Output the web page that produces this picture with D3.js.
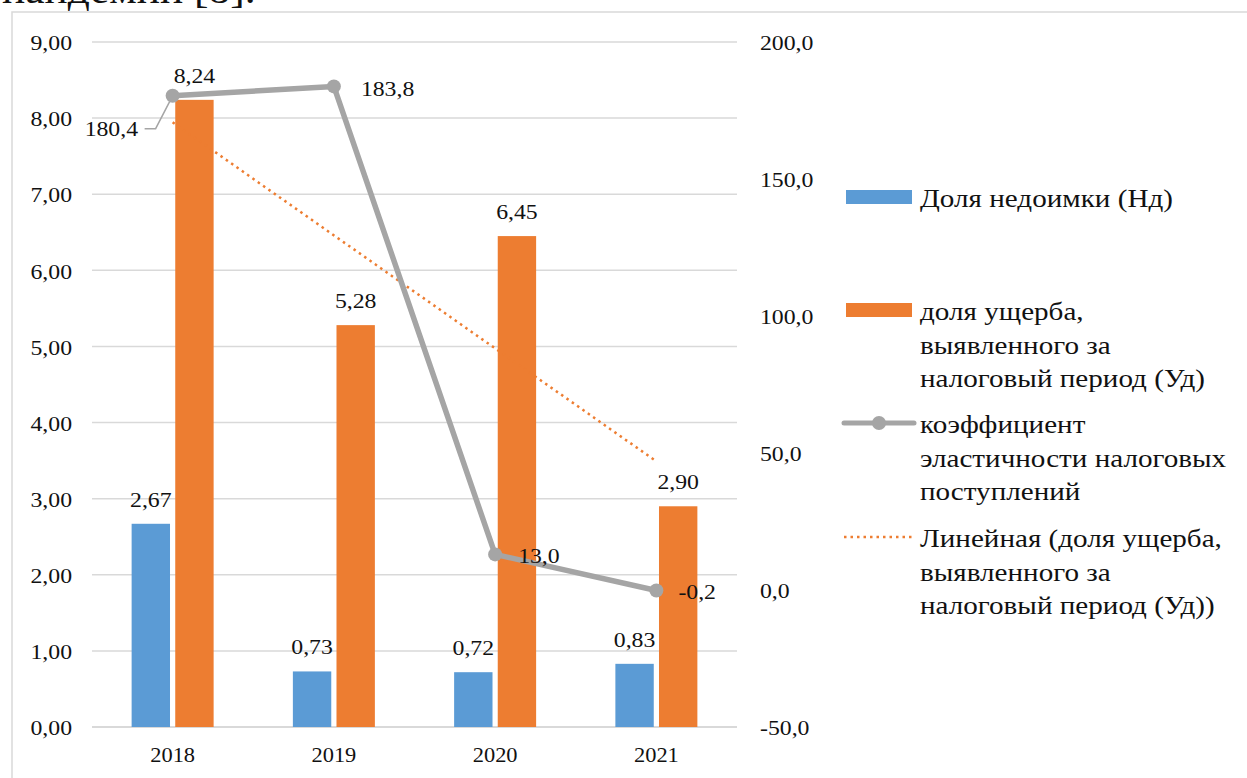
<!DOCTYPE html>
<html>
<head>
<meta charset="utf-8">
<script src="https://cdn.jsdelivr.net/npm/d3@7"></script>
<style>
  html, body { margin: 0; padding: 0; background: #fff; }
  svg { display: block; }
  svg text { font-family: "Liberation Serif", "Times New Roman", serif; fill: #111; }
</style>
</head>
<body>
<svg id="chart" width="1247" height="778"></svg>
<script>
// Years on the category axis
const years = ["2018", "2019", "2020", "2021"];
// Share of arrears (Нд), left axis
const arrearsShare = [2.67, 0.73, 0.72, 0.83];
// Share of damage detected in the tax period (Уд), left axis
const damageShare = [8.24, 5.28, 6.45, 2.90];
// Tax revenue elasticity coefficient, right axis
const elasticity = [180.4, 183.8, 13.0, -0.2];
// Tick values
const leftTicks = [0, 1, 2, 3, 4, 5, 6, 7, 8, 9];
const rightTicks = [-50, 0, 50, 100, 150, 200];

const fmt2 = v => v.toFixed(2).replace(".", ",");
const fmt1 = v => v.toFixed(1).replace(".", ",");

const FONT = "'Liberation Serif', 'Times New Roman', serif";
const NUM_SIZE = 22, NUM_STRETCH = 1.08;
const LEG_SIZE = 26, LEG_STRETCH = 1.12;

const svg = d3.select("#chart");

// Heading text of the page, cut by the top edge
svg.append("text")
  .attr("transform", "translate(2,3) scale(1.06,1)")
  .attr("font-family", FONT)
  .style("font-size", "41px")
  .text("пандемии [8].");

// Chart frame
svg.append("rect")
  .attr("x", 12).attr("y", 12)
  .attr("width", 1260).attr("height", 800)
  .attr("fill", "none").attr("stroke", "#d9d9d9").attr("stroke-width", 1.5);

const plot = { left: 92, right: 737, top: 42, bottom: 727 };

const x = d3.scaleBand().domain(years).range([plot.left, plot.right]);
const yL = d3.scaleLinear().domain([0, 9]).range([plot.bottom, plot.top]);
const yR = d3.scaleLinear().domain([-50, 200]).range([plot.bottom, plot.top]);
const cx = d => x(d) + x.bandwidth() / 2;

// Gridlines
svg.append("g")
  .selectAll("line").data(leftTicks).join("line")
  .attr("x1", plot.left).attr("x2", plot.right)
  .attr("y1", d => yL(d)).attr("y2", d => yL(d))
  .attr("stroke", "#d9d9d9").attr("stroke-width", d => d === 0 ? 2 : 1.5);

function styleAxisText(sel, size, stretch) {
  sel.selectAll("text")
    .attr("font-family", FONT)
    .style("font-size", size + "px")
    .attr("fill", "#111")
    .attr("transform", `scale(${stretch},1)`);
}

// Left axis labels
const leftAxis = svg.append("g")
  .attr("transform", `translate(${plot.left - 20},0)`)
  .call(d3.axisLeft(yL).tickValues(leftTicks).tickFormat(fmt2).tickSize(0).tickPadding(0));
leftAxis.select(".domain").remove();
styleAxisText(leftAxis, NUM_SIZE, NUM_STRETCH);
leftAxis.selectAll("text").attr("dy", "0.35em");

// Right axis labels
const rightAxis = svg.append("g")
  .attr("transform", `translate(${plot.right + 23},0)`)
  .call(d3.axisRight(yR).tickValues(rightTicks).tickFormat(fmt1).tickSize(0).tickPadding(0));
rightAxis.select(".domain").remove();
styleAxisText(rightAxis, NUM_SIZE, NUM_STRETCH);
rightAxis.selectAll("text").attr("dy", "0.35em");

// Bottom category labels
const bottomAxis = svg.append("g")
  .attr("transform", `translate(0,${plot.bottom + 19})`)
  .call(d3.axisBottom(x).tickSize(0).tickPadding(0));
bottomAxis.select(".domain").remove();
styleAxisText(bottomAxis, NUM_SIZE, 1.02);
bottomAxis.selectAll("text").attr("dy", "0.71em");

// Inner band for the two bars in each year
const sub = d3.scaleBand().domain(["a", "d"])
  .range([x.bandwidth() / 2 - 41, x.bandwidth() / 2 + 41]).paddingInner(0.12);

const series = [
  { key: "a", values: arrearsShare, color: "#5b9bd5" },
  { key: "d", values: damageShare, color: "#ed7d31" }
];

function numLabel(g, px, py, str, anchor) {
  g.append("text")
    .attr("transform", `translate(${px},${py}) scale(${NUM_STRETCH},1)`)
    .attr("text-anchor", anchor)
    .attr("font-family", FONT)
    .style("font-size", NUM_SIZE + "px")
    .text(str);
}

series.forEach(s => {
  const g = svg.append("g");
  g.selectAll("rect").data(years).join("rect")
    .attr("x", d => x(d) + sub(s.key))
    .attr("width", sub.bandwidth())
    .attr("y", (d, i) => yL(s.values[i]))
    .attr("height", (d, i) => yL(0) - yL(s.values[i]))
    .attr("fill", s.color);
  const lg = svg.append("g");
  years.forEach((d, i) => {
    numLabel(lg, x(d) + sub(s.key) + sub.bandwidth() / 2, yL(s.values[i]) - 17, fmt2(s.values[i]), "middle");
  });
});

// Linear trend of the damage share
const n = damageShare.length;
const xs = d3.range(1, n + 1);
const mx = d3.mean(xs), my = d3.mean(damageShare);
const slope = d3.sum(xs, (v, i) => (v - mx) * (damageShare[i] - my)) / d3.sum(xs, v => (v - mx) ** 2);
const icpt = my - slope * mx;
svg.append("line")
  .attr("x1", cx(years[0])).attr("y1", yL(icpt + slope * 1))
  .attr("x2", cx(years[n - 1])).attr("y2", yL(icpt + slope * n))
  .attr("stroke", "#ed7d31").attr("stroke-width", 2.5)
  .attr("stroke-dasharray", "2.5 4");

// Elasticity line
const line = d3.line().x((d, i) => cx(years[i])).y(d => yR(d));
svg.append("path").datum(elasticity)
  .attr("d", line).attr("fill", "none")
  .attr("stroke", "#a5a5a5").attr("stroke-width", 5.5).attr("stroke-linejoin", "round");
svg.append("g").selectAll("circle").data(elasticity).join("circle")
  .attr("cx", (d, i) => cx(years[i])).attr("cy", d => yR(d)).attr("r", 7)
  .attr("fill", "#a5a5a5");

// Leader line for the first elasticity label
const p0x = cx(years[0]), p0y = yR(elasticity[0]);
svg.append("polyline")
  .attr("points", `${p0x - 28},${p0y + 33} ${p0x - 17},${p0y + 33} ${p0x - 3},${p0y + 6}`)
  .attr("fill", "none").attr("stroke", "#a5a5a5").attr("stroke-width", 1.5);

// Elasticity labels
const elOffsets = [[-88, 40], [27, 10], [23, 9], [22, 8]];
const eg = svg.append("g");
elasticity.forEach((v, i) => {
  numLabel(eg, cx(years[i]) + elOffsets[i][0], yR(v) + elOffsets[i][1], fmt1(v), "start");
});

// Legend
const legend = svg.append("g").attr("transform", "translate(846,0)");
const legendItems = [
  { type: "bar", color: "#5b9bd5", y: 197, lines: ["Доля недоимки (Нд)"] },
  { type: "bar", color: "#ed7d31", y: 310, lines: ["доля ущерба,", "выявленного за", "налоговый период (Уд)"] },
  { type: "line", color: "#a5a5a5", y: 423, lines: ["коэффициент", "эластичности налоговых", "поступлений"] },
  { type: "trend", color: "#ed7d31", y: 537, lines: ["Линейная (доля ущерба,", "выявленного за", "налоговый период (Уд))"] }
];
legendItems.forEach(it => {
  const g = legend.append("g");
  if (it.type === "bar") {
    g.append("rect").attr("x", 0).attr("y", it.y - 7).attr("width", 66).attr("height", 14).attr("fill", it.color);
  } else if (it.type === "line") {
    g.append("line").attr("x1", -2).attr("x2", 68).attr("y1", it.y).attr("y2", it.y)
      .attr("stroke", it.color).attr("stroke-width", 5).attr("stroke-linecap", "round");
    g.append("circle").attr("cx", 33).attr("cy", it.y).attr("r", 7).attr("fill", it.color);
  } else {
    g.append("line").attr("x1", -2).attr("x2", 66).attr("y1", it.y).attr("y2", it.y)
      .attr("stroke", it.color).attr("stroke-width", 2.5).attr("stroke-dasharray", "2.5 4");
  }
  it.lines.forEach((l, k) => {
    g.append("text")
      .attr("transform", `translate(74,${it.y + 10 + k * 33.7}) scale(${LEG_STRETCH},1)`)
      .attr("font-family", FONT)
      .style("font-size", LEG_SIZE + "px")
      .text(l);
  });
});
</script>
</body>
</html>
